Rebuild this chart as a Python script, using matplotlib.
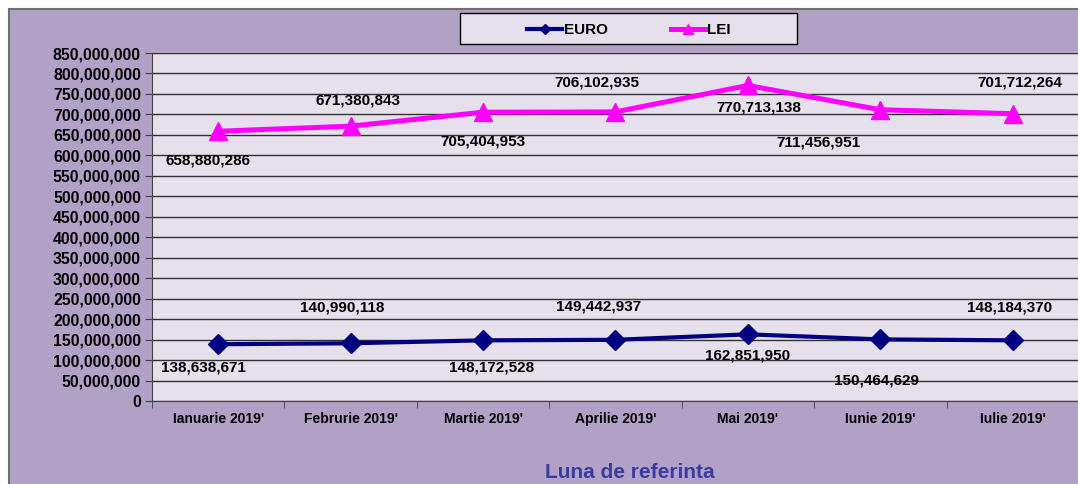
import matplotlib.pyplot as plt
from matplotlib.patches import Rectangle
from matplotlib.ticker import FuncFormatter, MultipleLocator, FixedLocator, NullFormatter

plt.rcParams['font.family'] = ['Liberation Sans', 'DejaVu Sans']
plt.rcParams['font.weight'] = 'bold'

luni = ["Ianuarie 2019'", "Februrie 2019'", "Martie 2019'", "Aprilie 2019'",
        "Mai 2019'", "Iunie 2019'", "Iulie 2019'"]
euro = [138638671, 140990118, 148172528, 149442937, 162851950, 150464629, 148184370]
lei = [658880286, 671380843, 705404953, 706102935, 770713138, 711456951, 701712264]

# label offsets in pixels (dx, dy), copied from the Excel placement
euro_off = [(-15, -23), (-8, 36), (8, -27), (-17, 33), (0, -21), (-4, -41), (-3, 33)]
lei_off = [(-10, -29), (7, 26), (0, -29), (-19, 29), (11, -22), (-62, -33), (7, 31)]

fig = plt.figure(figsize=(10.78, 4.84), dpi=100, facecolor='white')
fig.patches.append(Rectangle((9 / 1078, -0.1), 1.1, 1 - 9 / 484 + 0.1,
                             transform=fig.transFigure, facecolor='#B1A1C7',
                             edgecolor='#707070', lw=1.5, zorder=-2))
# legend box
fig.patches.append(Rectangle((460 / 1078, 1 - 44 / 484), 337 / 1078, 31 / 484,
                             transform=fig.transFigure, facecolor='#E6E0EC',
                             edgecolor='black', lw=1, zorder=-1))

ax = fig.add_axes([152 / 1078, 1 - 401 / 484, 927 / 1078, 348 / 484])
ax.set_facecolor('#E6E0EC')

x = range(len(luni))
l1, = ax.plot(x, euro, color='#000080', lw=3, marker='D', markersize=10.5,
              label='EURO', zorder=3)
l2, = ax.plot(x, lei, color='#FF00FF', lw=3.6, marker='^', markersize=13,
              label='LEI', zorder=3)

for i in x:
    ax.annotate(f'{euro[i]:,}', (i, euro[i]), xytext=(euro_off[i][0] * 0.72, euro_off[i][1] * 0.72),
                textcoords='offset points', ha='center', va='center', fontsize=11,
                fontweight='bold', color='black')
    ax.annotate(f'{lei[i]:,}', (i, lei[i]), xytext=(lei_off[i][0] * 0.72, lei_off[i][1] * 0.72),
                textcoords='offset points', ha='center', va='center', fontsize=11,
                fontweight='bold', color='black')

ax.set_xlim(-0.5, len(luni) - 0.5)
ax.set_ylim(0, 850000000)
ax.yaxis.set_major_locator(MultipleLocator(50000000))
ax.yaxis.set_major_formatter(FuncFormatter(lambda v, p: f'{int(v):,}'))
ax.grid(axis='y', color='#303030', lw=1)
ax.set_axisbelow(True)

ax.set_xticks(list(x))
ax.set_xticklabels(luni, fontsize=10, fontweight='bold')
ax.tick_params(axis='x', length=0, pad=8)
ax.xaxis.set_minor_locator(FixedLocator([i - 0.5 for i in range(len(luni) + 1)]))
ax.xaxis.set_minor_formatter(NullFormatter())
ax.tick_params(axis='x', which='minor', length=5, color='#404040')
ax.tick_params(axis='y', labelsize=11.4, length=5, color='#404040', pad=3)
for lab in ax.get_yticklabels():
    lab.set_fontweight('bold')

for s in ['top', 'right']:
    ax.spines[s].set_visible(False)
ax.spines['left'].set_color('#404040')
ax.spines['bottom'].set_color('#404040')

fig.text(630 / 1078, 1 - 472 / 484, 'Luna de referinta', ha='center', va='center',
         fontsize=15, fontweight='bold', color='#3A3AA0')

leg = fig.legend(handles=[l1, l2], loc='center', ncol=2,
                 bbox_to_anchor=(629 / 1078, 1 - 30 / 484),
                 fontsize=11, handlelength=2.3, handletextpad=0.1, columnspacing=4.1,
                 frameon=False, borderaxespad=0, markerscale=0.5)
for t in leg.get_texts():
    t.set_fontweight('bold')

fig.savefig('out.png', dpi=100, facecolor=fig.get_facecolor())
